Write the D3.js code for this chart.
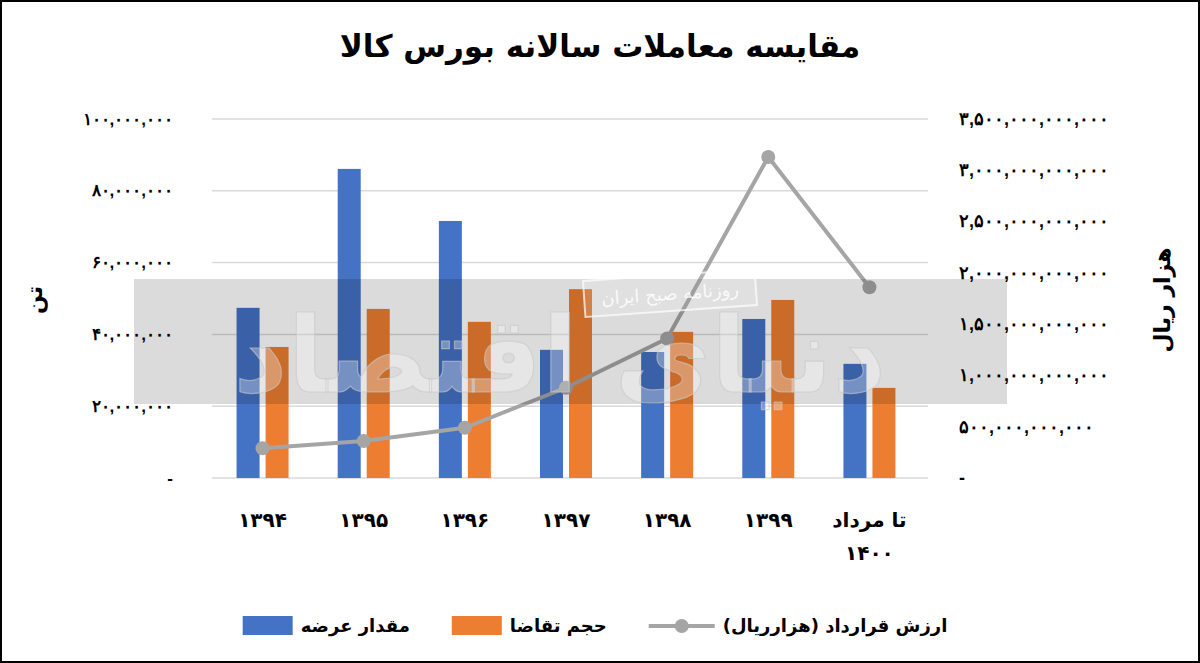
<!DOCTYPE html>
<html><head><meta charset="utf-8">
<script src="https://cdn.jsdelivr.net/npm/d3@7"></script>
<style>
html,body{margin:0;padding:0;background:#fff;}
svg{display:block;font-family:"DejaVu Sans",sans-serif;}
</style></head>
<body>
<svg id="c" width="1200" height="663"></svg>
<script>
const categories = ["۱۳۹۴","۱۳۹۵","۱۳۹۶","۱۳۹۷","۱۳۹۸","۱۳۹۹","تا مرداد|۱۴۰۰"];
const supply = [47.4e6, 86.1e6, 71.6e6, 35.7e6, 35.1e6, 44.3e6, 31.8e6];
const demand = [36.5e6, 47.1e6, 43.5e6, 52.6e6, 40.7e6, 49.6e6, 25.1e6];
const contractValue = [0.29e12, 0.36e12, 0.49e12, 0.88e12, 1.36e12, 3.13e12, 1.86e12];
const leftTicks = [0, 20e6, 40e6, 60e6, 80e6, 100e6];
const rightTicks = [0, 0.5e12, 1e12, 1.5e12, 2e12, 2.5e12, 3e12, 3.5e12];
const seriesNames = ["مقدار عرضه", "حجم تقاضا", "ارزش قرارداد (هزارریال)"];
const title = "مقایسه معاملات سالانه بورس کالا";
const leftTitle = "تن";
const rightTitle = "هزار ریال";

const colors = {supply:"#4472c4", demand:"#ed7d31", line:"#a5a5a5"};
const fa = s => String(s).replace(/[0-9]/g, d => "۰۱۲۳۴۵۶۷۸۹"[d]);
const fmt = v => v === 0 ? "-" : fa(d3.format(",.0f")(v));

const svg = d3.select("#c");
const W = 1200, H = 663;
const m = {l:212, r:280, t:119, b:185};
const x = d3.scaleBand().domain(categories).range([m.l, W - m.r]).paddingInner(0.4).paddingOuter(0.2);
const yL = d3.scaleLinear().domain([0, 100e6]).range([H - m.b, m.t]);
const yR = d3.scaleLinear().domain([0, 3.5e12]).range([H - m.b, m.t]);

// border
svg.append("rect").attr("x",1).attr("y",1).attr("width",W-2).attr("height",H-2)
  .attr("fill","none").attr("stroke","#000").attr("stroke-width",2);

// title
svg.append("text").attr("x",600).attr("y",57).attr("text-anchor","middle")
  .attr("font-size",31).attr("font-weight","bold").attr("direction","rtl").text(title);

// gridlines
svg.append("g").selectAll("line").data(leftTicks).join("line")
  .attr("x1", m.l).attr("x2", W - m.r + 8)
  .attr("y1", d => yL(d)).attr("y2", d => yL(d))
  .attr("stroke","#d9d9d9").attr("stroke-width",1.5);

// left axis
const gl = svg.append("g").attr("transform",`translate(${m.l - 36},0)`)
  .call(d3.axisLeft(yL).tickValues(leftTicks).tickFormat(fmt).tickSize(0));
gl.select(".domain").remove();
gl.selectAll("text").attr("font-size",17).attr("font-weight","bold").attr("fill","#000").attr("dy","0.3em");

// right axis
const gr = svg.append("g").attr("transform",`translate(${W - m.r + 36},0)`)
  .call(d3.axisRight(yR).tickValues(rightTicks).tickFormat(fmt).tickSize(0));
gr.select(".domain").remove();
gr.selectAll("text").attr("font-size",18).attr("font-weight","bold").attr("fill","#000").attr("dy","0.3em");

// axis titles
svg.append("text").attr("transform","translate(42,300) rotate(-90)").attr("text-anchor","middle")
  .attr("font-size",22).attr("font-weight","bold").text(leftTitle);
svg.append("text").attr("transform","translate(1170,300) rotate(-90)").attr("text-anchor","middle")
  .attr("font-size",22).attr("font-weight","bold").attr("direction","rtl").text(rightTitle);

// bars
const bw = 23, gap = 6;
const bars = svg.append("g");
bars.selectAll(".s").data(supply).join("rect").attr("class","s")
  .attr("x",(d,i) => x(categories[i]) + x.bandwidth()/2 - gap/2 - bw)
  .attr("width",bw).attr("y",d => yL(d)).attr("height",d => yL(0) - yL(d))
  .attr("fill",colors.supply);
bars.selectAll(".d").data(demand).join("rect").attr("class","d")
  .attr("x",(d,i) => x(categories[i]) + x.bandwidth()/2 + gap/2)
  .attr("width",bw).attr("y",d => yL(d)).attr("height",d => yL(0) - yL(d))
  .attr("fill",colors.demand);

// line
const cx = i => x(categories[i]) + x.bandwidth()/2;
const line = d3.line().x((d,i) => cx(i)).y(d => yR(d));
svg.append("path").datum(contractValue).attr("d",line).attr("fill","none")
  .attr("stroke",colors.line).attr("stroke-width",4).attr("stroke-linejoin","round");
svg.append("g").selectAll("circle").data(contractValue).join("circle")
  .attr("cx",(d,i) => cx(i)).attr("cy",d => yR(d)).attr("r",7).attr("fill",colors.line);

// watermark
const wm = svg.append("g");
wm.append("rect").attr("x",134).attr("y",279).attr("width",873).attr("height",125)
  .attr("fill","#000").attr("opacity",0.14);
wm.append("text").attr("x",560).attr("y",392).attr("text-anchor","middle").attr("direction","rtl")
  .attr("font-size",105).attr("font-weight","bold").attr("fill","#fff").attr("fill-opacity",0.3)
  .attr("stroke","#c8c8c8").attr("stroke-width",1.2).attr("stroke-opacity",0.6).text("دنیای اقتصاد");
const box = wm.append("g").attr("transform","translate(670,293) rotate(-4)");
box.append("rect").attr("x",-86).attr("y",-18).attr("width",172).attr("height",36)
  .attr("fill","#fff").attr("fill-opacity",0.15).attr("stroke","#fff").attr("stroke-opacity",0.7).attr("stroke-width",2);
box.append("text").attr("y",7).attr("text-anchor","middle").attr("direction","rtl")
  .attr("font-size",18).attr("fill","#fff").attr("fill-opacity",0.85).text("روزنامه صبح ایران");

// category labels
const cl = svg.append("g");
categories.forEach((c,i) => {
  const parts = c.split("|");
  parts.forEach((p,j) => {
    cl.append("text").attr("x",cx(i)).attr("y",527 + j*33).attr("text-anchor","middle")
      .attr("direction","rtl").attr("font-size",20).attr("font-weight","bold").text(p);
  });
});

// legend: [swatch][text] x3, centered
const lg = svg.append("g").attr("font-size",18).attr("font-weight","bold");
const items = [
  {name: seriesNames[0], type:"rect", color: colors.supply},
  {name: seriesNames[1], type:"rect", color: colors.demand},
  {name: seriesNames[2], type:"line", color: colors.line}
];
const swW = 50, pad = 8, itemGap = 42, ly = 626;
const texts = items.map(it => {
  const t = lg.append("text").attr("direction","rtl").attr("text-anchor","end").attr("y", ly + 6).text(it.name);
  return {t, w: t.node().getComputedTextLength()};
});
const totalW = d3.sum(texts, d => d.w) + items.length*(swW + pad) + 16 + (items.length-1)*itemGap;
let lx = 595 - totalW/2;
items.forEach((it,i) => {
  if (it.type === "rect") {
    lg.append("rect").attr("x",lx).attr("y",ly-10).attr("width",swW).attr("height",19).attr("fill",it.color);
  } else {
    lg.append("line").attr("x1",lx).attr("x2",lx+swW+16).attr("y1",ly).attr("y2",ly).attr("stroke",it.color).attr("stroke-width",4);
    lg.append("circle").attr("cx",lx+(swW+16)/2).attr("cy",ly).attr("r",7).attr("fill",it.color);
    lx += 16;
  }
  lx += swW + pad;
  texts[i].t.attr("x", lx);
  lx += texts[i].w + itemGap;
});
</script>
</body></html>
